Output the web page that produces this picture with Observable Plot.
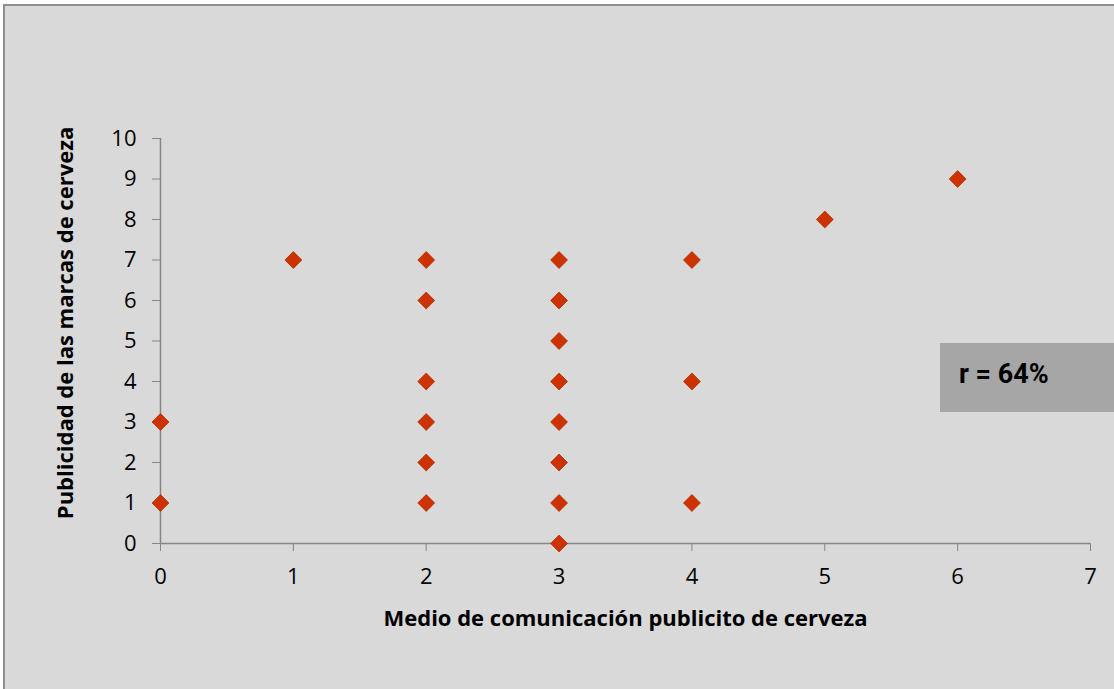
<!DOCTYPE html>
<html>
<head>
<meta charset="utf-8">
<script src="https://cdn.jsdelivr.net/npm/d3@7"></script>
<script src="https://cdn.jsdelivr.net/npm/@observablehq/plot@0.6"></script>
<style>
  html, body { margin: 0; padding: 0; background: #ffffff; overflow: hidden; width: 1114px; height: 689px; }
  #frame { position: absolute; left: 5px; top: 6px; width: 1109px; height: 683px; background: #d9d9d9; outline: 2px solid #8f8f8f; }
  #rbox { position: absolute; left: 940px; top: 343px; width: 200px; height: 69px; background: #a6a6a6;
          font-family: Roboto, "Open Sans", sans-serif; font-weight: bold; font-size: 27px; line-height: 27px; color: #000; box-sizing: border-box; padding: 18px 0 0 19px; }
</style>
</head>
<body>
<div id="frame"></div>
<script>
const medio =       [0, 0, 1, 2, 2, 2, 2, 2, 2, 3, 3, 3, 3, 3, 3, 3, 3, 4, 4, 4, 5, 6];
const publicidad =  [1, 3, 7, 7, 6, 4, 3, 2, 1, 7, 6, 5, 4, 3, 2, 1, 0, 7, 4, 1, 8, 9];
const xTicks = [0, 1, 2, 3, 4, 5, 6, 7];
const yTicks = [0, 1, 2, 3, 4, 5, 6, 7, 8, 9, 10];
const xTitle = "Medio de comunicación publicito de cerveza";
const yTitle = "Publicidad de las marcas de cerveza";
const rLabel = "r = 64%";

const data = medio.map((m, i) => ({x: m, y: publicidad[i]}));
const axisColor = "#868686";
const font = "'Open Sans', Roboto, sans-serif";

const chart = Plot.plot({
  width: 1109,
  height: 683,
  marginLeft: 155,
  marginRight: 24,
  marginTop: 132,
  marginBottom: 146,
  style: { background: "transparent", fontFamily: font, fontSize: "22px", color: "#000", overflow: "visible" },
  x: { domain: [0, 7] },
  y: { domain: [0, 10] },
  marks: [
    Plot.ruleX([0], { stroke: axisColor, strokeWidth: 1.5 }),
    Plot.ruleY([0], { stroke: axisColor, strokeWidth: 1.5 }),
    Plot.axisY({ ticks: yTicks, tickSize: 8, tickPadding: 16, stroke: axisColor, tickFormat: d => String(d),
      label: null, fontSize: 22 }),
    Plot.text([yTitle], { text: d => d, frameAnchor: "left", rotate: -90, textAnchor: "middle", lineAnchor: "top",
      dx: -103, dy: -18, fontSize: 22, fontWeight: "bold", fill: "#000" }),
    Plot.axisX({ ticks: xTicks, tickSize: 8, tickPadding: 17, stroke: axisColor, tickFormat: d => String(d),
      label: null, fontSize: 22 }),
    Plot.axisX({ ticks: [], label: xTitle, labelAnchor: "center", labelArrow: "none", labelOffset: 82, fontSize: 22, fontWeight: "bold" }),
    Plot.dot(data, { x: "x", y: "y", symbol: "diamond2", r: 7.6, fill: "#cc3300", stroke: "#b52d00", strokeWidth: 0.8 })
  ]
});
chart.style.position = "absolute";
chart.style.left = "5px";
chart.style.top = "6px";
document.body.appendChild(chart);

const box = document.createElement("div");
box.id = "rbox";
box.textContent = rLabel;
document.body.appendChild(box);
</script>
</body>
</html>
